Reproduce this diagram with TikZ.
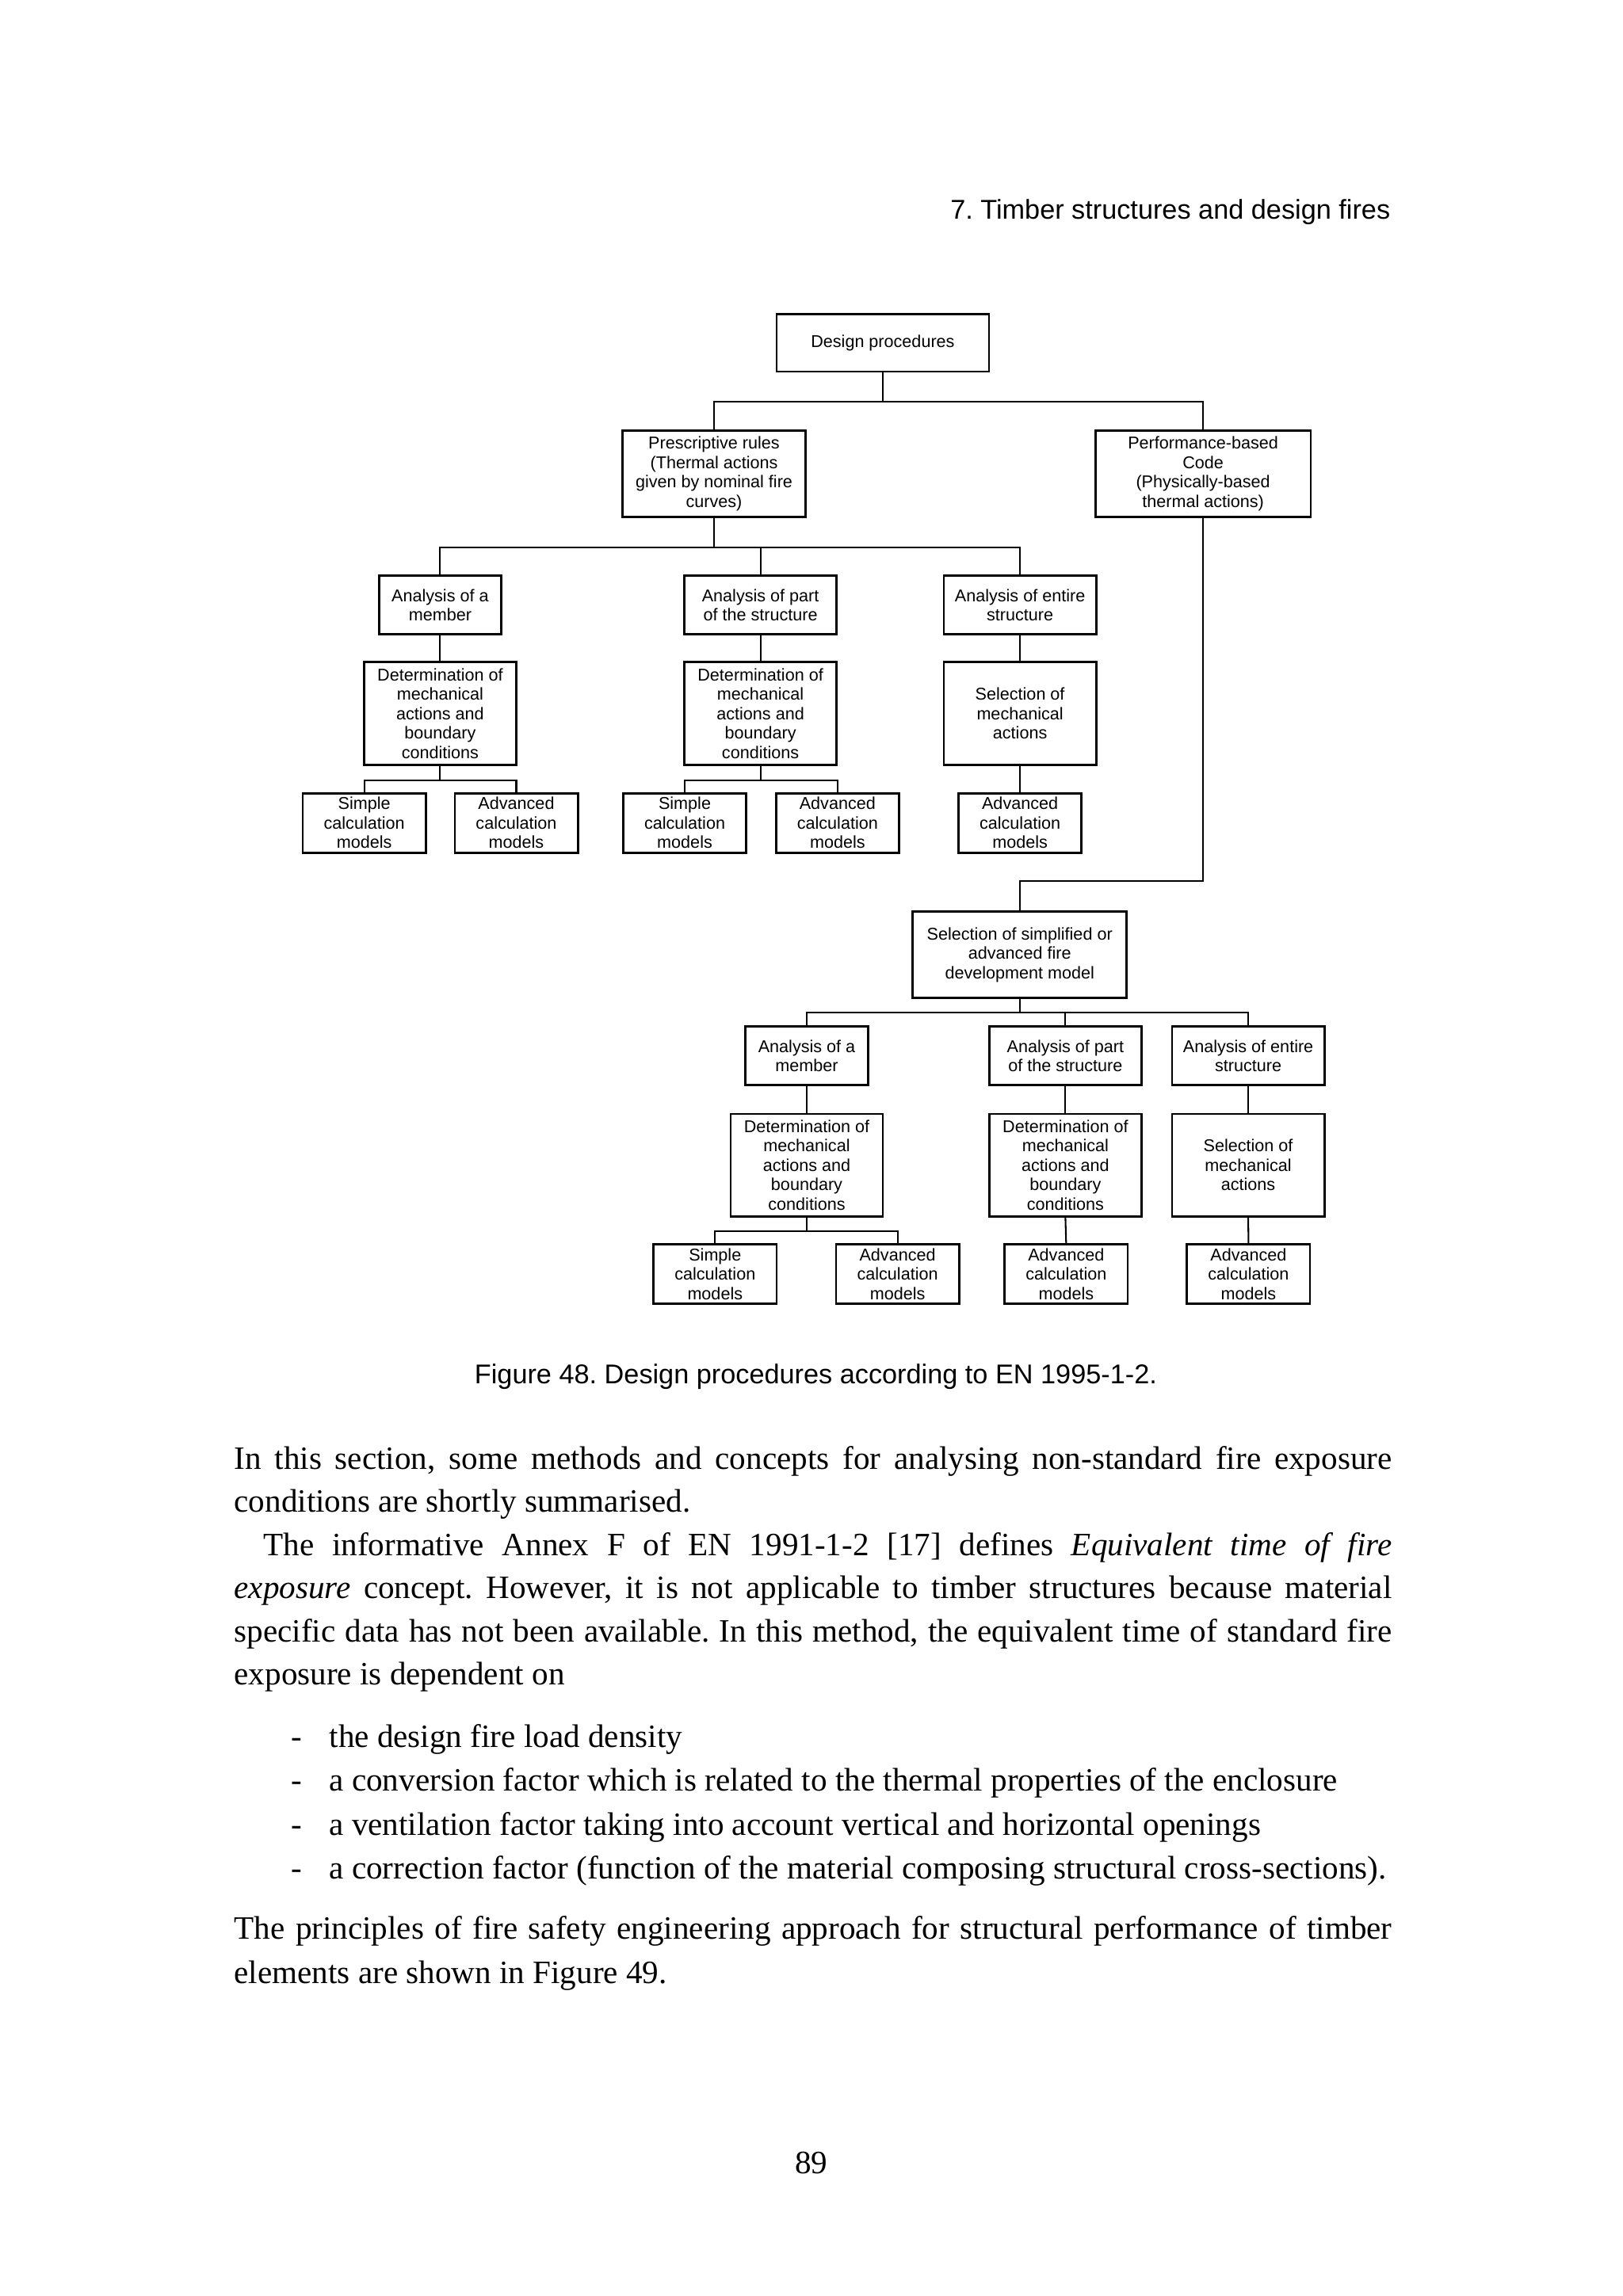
\documentclass[tikz,border=0pt]{standalone}
\usepackage{fontspec}
\setmainfont{Liberation Serif}
\newfontfamily\arialfont{Liberation Sans}
\frenchspacing

\newcommand{\px}{0.18953mm}
\newcommand{\boxfont}{\arialfont\fontsize{6.3}{7.15}\selectfont}

\tikzset{
  box/.style={draw, line width=0.8pt, inner sep=0pt, align=center, font=\boxfont},
  member/.style={box, minimum width=83.5*\px, minimum height=40*\px},
  part/.style={box, minimum width=104*\px, minimum height=40*\px},
  detbox/.style={box, minimum width=104*\px, minimum height=70*\px},
  calc/.style={box, minimum width=84*\px, minimum height=40.5*\px},
  link/.style={line width=0.6pt},
  body/.style={anchor=base west, inner sep=0pt, font=\fontsize{12}{15.9}\selectfont},
  sans/.style={inner sep=0pt, font=\arialfont\fontsize{10}{12}\selectfont}
}

\begin{document}
\begin{tikzpicture}[x=0.18953mm, y=-0.18953mm]
   \fill[white] (0,0) rectangle (1108,1568);
   \useasboundingbox (0,0) rectangle (1108,1568);

   \node[sans, anchor=base east] (header) at (949.5,149.7) {7. Timber structures and design fires};

   % top of the tree
   \node[box, minimum width=145*\px, minimum height=39*\px] (design) at (602.7,234.2) {Design procedures};
   \node[box, minimum width=125*\px, minimum height=59*\px] (presc) at (487.5,323.4)
      {Prescriptive rules\\(Thermal actions\\given by nominal fire\\curves)};
   \node[box, minimum width=147*\px, minimum height=59*\px] (perf) at (821.4,323.4)
      {Performance-based\\Code\\(Physically-based\\thermal actions)};

   % prescriptive branch
   \node[member] (memA) at (300.5,413.2) {Analysis of a\\member};
   \node[part] (partA) at (519.2,413.2) {Analysis of part\\of the structure};
   \node[part] (entA) at (696.4,413.2) {Analysis of entire\\structure};
   \node[detbox] (detA) at (300.5,487.2) {Determination of\\mechanical\\actions and\\boundary\\conditions};
   \node[detbox] (detB) at (519.2,487.2) {Determination of\\mechanical\\actions and\\boundary\\conditions};
   \node[detbox] (selA) at (696.4,487.2) {Selection of\\mechanical\\actions};
   \node[calc] (simA) at (248.7,562) {Simple\\calculation\\models};
   \node[calc] (advA) at (352.5,562) {Advanced\\calculation\\models};
   \node[calc] (simB) at (467.5,562) {Simple\\calculation\\models};
   \node[calc] (advB) at (571.8,562) {Advanced\\calculation\\models};
   \node[calc] (advC) at (696.4,562) {Advanced\\calculation\\models};

   % performance branch
   \node[box, minimum width=146*\px, minimum height=59*\px] (fire) at (696.2,652)
      {Selection of simplified or\\advanced fire\\development model};
   \node[member] (memB) at (550.8,721.1) {Analysis of a\\member};
   \node[part] (partB) at (727.4,721.1) {Analysis of part\\of the structure};
   \node[part] (entB) at (852.2,721.1) {Analysis of entire\\structure};
   \node[detbox] (detC) at (550.8,795.7) {Determination of\\mechanical\\actions and\\boundary\\conditions};
   \node[detbox] (detD) at (727.4,795.7) {Determination of\\mechanical\\actions and\\boundary\\conditions};
   \node[detbox] (selB) at (852.2,795.7) {Selection of\\mechanical\\actions};
   \node[calc] (simC) at (488.2,870) {Simple\\calculation\\models};
   \node[calc] (advD) at (612.8,870) {Advanced\\calculation\\models};
   \node[calc] (advE) at (727.9,870) {Advanced\\calculation\\models};
   \node[calc] (advF) at (852.4,870) {Advanced\\calculation\\models};

   % connectors
   \draw[link] (design.south) -- ++(0,20.1) coordinate (splitTop) -| (presc.north);
   \draw[link] (splitTop) -| (perf.north);
   \draw[link] (presc.south) -- ++(0,20.1) coordinate (splitPresc) -| (memA.north);
   \draw[link] (splitPresc) -| (partA.north);
   \draw[link] (splitPresc) -| (entA.north);
   \draw[link] (memA.south) -- (detA.north);
   \draw[link] (partA.south) -- (detB.north);
   \draw[link] (entA.south) -- (selA.north);
   \draw[link] (detA.south) -- ++(0,10.2) coordinate (splitA) -| (simA.north);
   \draw[link] (splitA) -| (advA.north);
   \draw[link] (detB.south) -- ++(0,10.2) coordinate (splitB) -| (simB.north);
   \draw[link] (splitB) -| (advB.north);
   \draw[link] (selA.south) -- (advC.north);
   \draw[link] (perf.south) |- ([yshift=20.3*\px]fire.north) -- (fire.north);
   \draw[link] (fire.south) -- ++(0,9.3) coordinate (splitFire) -| (memB.north);
   \draw[link] (splitFire) -| (partB.north);
   \draw[link] (splitFire) -| (entB.north);
   \draw[link] (memB.south) -- (detC.north);
   \draw[link] (partB.south) -- (detD.north);
   \draw[link] (entB.south) -- (selB.north);
   \draw[link] (detC.south) -- ++(0,9.3) coordinate (splitC) -| (simC.north);
   \draw[link] (splitC) -| (advD.north);
   \draw[link] (detD.south) -- (advE.north);
   \draw[link] (selB.south) -- (advF.north);

   \node[sans, anchor=base] (caption) at (557,945) {Figure 48. Design procedures according to EN 1995-1-2.};

   % body text
   \node[body] (lineA) at (159.6,1003.3) {\makebox[149.8mm][s]{In this section, some methods and concepts for analysing non-standard fire exposure}};
   \node[body] (lineB) at (159.6,1032.7) {conditions are shortly summarised.};
   \node[body] (lineC) at (179.6,1062.2) {\makebox[146.0mm][s]{The informative Annex F of EN 1991-1-2 [17] defines \textit{Equivalent time of fire}}};
   \node[body] (lineD) at (159.6,1091.7) {\makebox[149.8mm][s]{\textit{exposure} concept. However, it is not applicable to timber structures because material}};
   \node[body] (lineE) at (159.6,1121.1) {\makebox[149.8mm][s]{specific data has not been available. In this method, the equivalent time of standard fire}};
   \node[body] (lineF) at (159.6,1150.5) {exposure is dependent on};
   \foreach \y/\txt [count=\i] in {1193.2/the design fire load density,
         1223.2/a conversion factor which is related to the thermal properties of the enclosure,
         1253.6/a ventilation factor taking into account vertical and horizontal openings,
         1283.3/a correction factor (function of the material composing structural cross-sections).}{
      \node[body] (dash\i) at (198.5,\y) {-};
      \node[body] (item\i) at (224.5,\y) {\txt};
   }
   \node[body] (lineG) at (159.6,1324.4) {\makebox[149.8mm][s]{The principles of fire safety engineering approach for structural performance of timber}};
   \node[body] (lineH) at (159.6,1354.7) {elements are shown in Figure 49.};

   \node[body, anchor=base] (pagenum) at (554,1484.2) {89};
\end{tikzpicture}
\end{document}
